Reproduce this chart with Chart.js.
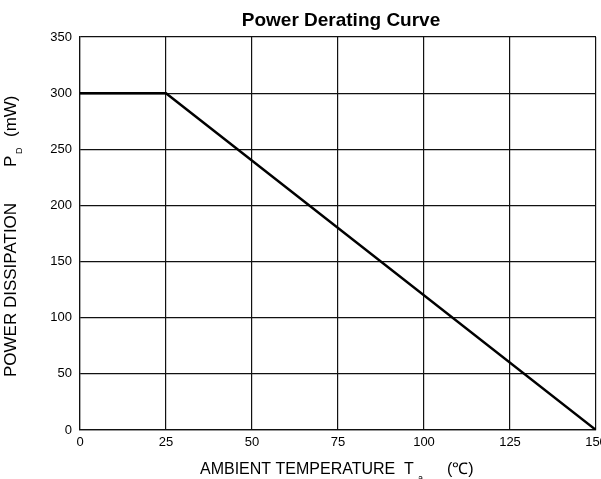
<!DOCTYPE html>
<html>
<head>
<meta charset="utf-8">
<script src="https://cdn.jsdelivr.net/npm/chart.js@4/dist/chart.umd.min.js"></script>
<style>
  html, body { margin: 0; padding: 0; background: #fff; overflow: hidden; }
  #wrap { width: 601px; height: 479px; overflow: hidden; position: relative; }
  #wrap canvas { position: absolute; left: 0; top: 0; }
</style>
</head>
<body>
<div id="wrap"><canvas id="derating" width="620" height="479"></canvas></div>
<script>
// Data
const temperatures = [0, 25, 150];     // ambient temperature, °C
const powerDissipation = [300, 300, 0]; // mW
const xTicks = [0, 25, 50, 75, 100, 125, 150];
const yTicks = [0, 50, 100, 150, 200, 250, 300, 350];

const FONT = "'Liberation Sans', Arial, sans-serif";
const INK = '#000';

// Title and axis titles (with subscripts)
const labelsPlugin = {
    id: 'labels',
    afterDraw(chart) {
        const ctx = chart.ctx;
        ctx.save();
        ctx.fillStyle = INK;
        ctx.textBaseline = 'alphabetic';

        // title
        ctx.font = 'bold 19px ' + FONT;
        ctx.textAlign = 'center';
        ctx.fillText('Power Derating Curve', 341, 26);

        // x axis title
        ctx.textAlign = 'left';
        ctx.font = '16px ' + FONT;
        ctx.fillText('AMBIENT TEMPERATURE', 200, 474);
        ctx.fillText('T', 404, 474);
        ctx.fillText('(\u2103)', 447, 474);
        ctx.font = '9px ' + FONT;
        ctx.fillText('a', 418, 481);

        // y axis title
        ctx.translate(16, 377);
        ctx.rotate(-Math.PI / 2);
        ctx.font = '17px ' + FONT;
        ctx.fillText('POWER DISSIPATION', 0, 0);
        ctx.fillText('P', 210, 0);
        ctx.fillText('(mW)', 240, 0);
        ctx.font = '9px ' + FONT;
        ctx.fillText('D', 223, 6);
        ctx.restore();
    }
};

const ctx = document.getElementById('derating').getContext('2d');
const chart = new Chart(ctx, {
    type: 'line',
    data: {
        datasets: [{
            label: 'Power Derating',
            data: temperatures.map((t, i) => ({ x: t, y: powerDissipation[i] })),
            borderColor: INK,
            borderWidth: 2.5,
            pointRadius: 0,
            tension: 0,
            fill: false
        }]
    },
    options: {
        responsive: false,
        animation: false,
        devicePixelRatio: 1,
        layout: { padding: { left: 0, top: 37, right: 24, bottom: 0 } },
        plugins: {
            legend: { display: false },
            title: { display: false },
            tooltip: { enabled: false }
        },
        scales: {
            x: {
                type: 'linear',
                min: 0,
                max: 150,
                afterFit: s => { s.height = 49; },
                afterBuildTicks: s => { s.ticks = xTicks.map(v => ({ value: v })); },
                grid: { color: '#111', lineWidth: 1.2, drawTicks: false },
                border: { display: true, color: '#111', width: 1.2 },
                ticks: { color: INK, font: { family: FONT, size: 13 }, padding: 5, maxRotation: 0 }
            },
            y: {
                min: 0,
                max: 350,
                afterFit: s => { s.width = 80; },
                afterBuildTicks: s => { s.ticks = yTicks.map(v => ({ value: v })); },
                grid: { color: '#111', lineWidth: 1.2, drawTicks: false },
                border: { display: true, color: '#111', width: 1.2 },
                ticks: { color: INK, font: { family: FONT, size: 13 }, padding: 8 }
            }
        }
    },
    plugins: [labelsPlugin]
});
</script>
</body>
</html>
